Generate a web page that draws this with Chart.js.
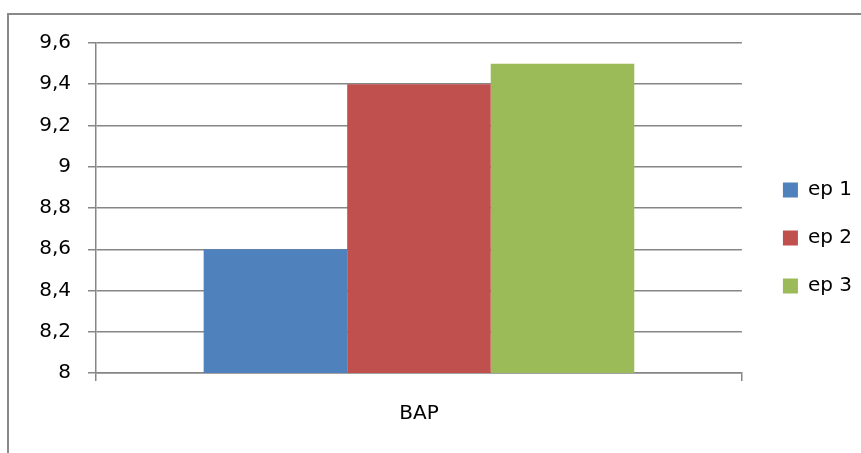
<!DOCTYPE html>
<html>
<head>
<meta charset="utf-8">
<script src="https://cdn.jsdelivr.net/npm/chart.js@4"></script>
<style>
  html, body { margin: 0; padding: 0; background: #fff; overflow: hidden; }
  body { width: 861px; height: 453px; position: relative; }
  .frame {
    position: absolute; left: 7px; top: 13px;
    width: 1000px; height: 1000px;
    border: 2px solid #898989;
  }
  #barChart { position: absolute; left: 0; top: 0; }
</style>
</head>
<body>
<div class="frame"></div>
<canvas id="barChart" width="861" height="453"></canvas>
<script>
// ------------------- Data -------------------
const categories = ["BAP"];
const seriesNames = ["ep 1", "ep 2", "ep 3"];
const ep1Values = [8.6];
const ep2Values = [9.4];
const ep3Values = [9.5];
const seriesColors = ["#4F81BD", "#C0504D", "#9BBB59"];

const yMin = 8;
const yMax = 9.6;
const yStep = 0.2;

const gridColor = "#868686";
const gridWidth = 1.5;
const labelFont = { family: "DejaVu Sans", size: 20 };

// nudge the legend a bit away from the plot, like the Excel layout
const legendShift = { x: 13, y: -10 };

// ------------------- Helpers -------------------
function formatTick(value) {
  return String(Number(value.toFixed(1))).replace(".", ",");
}

const legendNudge = {
  id: "legendNudge",
  afterLayout(chart) {
    const lg = chart.legend;
    if (!lg) return;
    lg.left += legendShift.x;
    lg.right += legendShift.x;
    lg.top += legendShift.y;
    lg.bottom += legendShift.y;
  }
};

document.addEventListener("DOMContentLoaded", function () {
  renderBarChart();
});

// BAR CHART: BAP by episode
function renderBarChart() {
  const values = [ep1Values, ep2Values, ep3Values];
  new Chart(document.getElementById("barChart"), {
    type: "bar",
    data: {
      labels: categories,
      datasets: seriesNames.map((name, i) => ({
        label: name,
        data: values[i],
        backgroundColor: seriesColors[i],
        borderWidth: 0,
        categoryPercentage: 3 / 4.5,
        barPercentage: 1.0,
      })),
    },
    options: {
      responsive: false,
      animation: false,
      layout: { padding: { left: 0, top: 43, right: 12, bottom: 0 } },
      scales: {
        x: {
          grid: {
            drawOnChartArea: false,
            drawTicks: true,
            tickLength: 8,
            color: gridColor,
            lineWidth: gridWidth,
            offset: true,
          },
          border: { color: gridColor, width: gridWidth },
          ticks: { color: "#000", font: labelFont, padding: 21 },
          afterFit: (scale) => { scale.height = 80; },
        },
        y: {
          min: yMin,
          max: yMax,
          grid: { color: gridColor, lineWidth: gridWidth, tickLength: 8 },
          border: { color: gridColor, width: gridWidth },
          ticks: {
            stepSize: yStep,
            color: "#000",
            font: labelFont,
            padding: 17,
            callback: (v) => formatTick(v),
          },
          afterFit: (scale) => { scale.width = 96; },
        },
      },
      plugins: {
        legend: {
          position: "right",
          labels: {
            boxWidth: 15,
            boxHeight: 15,
            padding: 28,
            color: "#000",
            font: labelFont,
          },
        },
        tooltip: { enabled: false },
      },
    },
    plugins: [legendNudge],
  });
}
</script>
</body>
</html>
